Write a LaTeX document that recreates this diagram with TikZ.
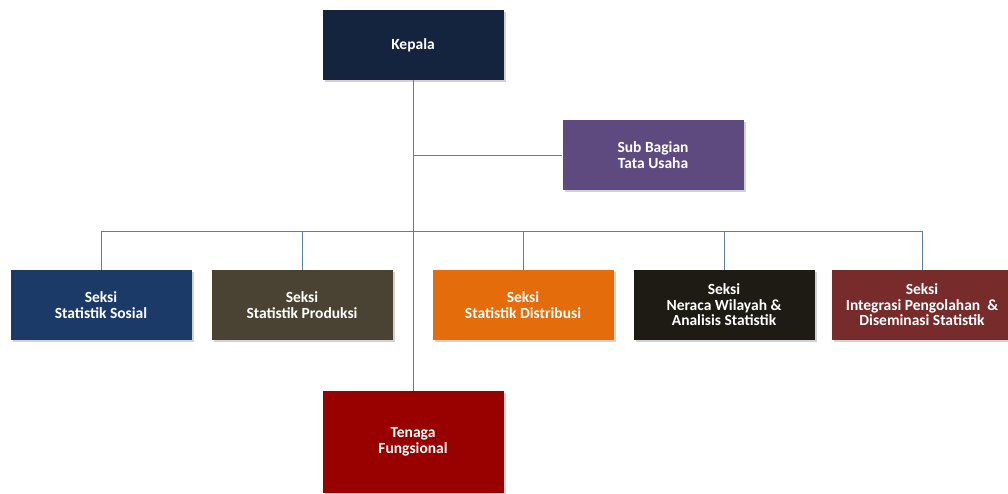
\documentclass[tikz,border=0pt]{standalone}
\usepackage{fontspec}
\setmainfont{Carlito}
\usepackage{tikz}
\usetikzlibrary{shadows}
\definecolor{kepalablue}{HTML}{14243F}
\definecolor{tupurple}{HTML}{5E4A7E}
\definecolor{sosialblue}{HTML}{1B3A68}
\definecolor{produksibrown}{HTML}{4A4232}
\definecolor{distribusiorange}{HTML}{E46C0A}
\definecolor{neracablack}{HTML}{1E1A14}
\definecolor{integrasired}{HTML}{772B2B}
\definecolor{tenagared}{HTML}{990000}
\definecolor{linkblue}{HTML}{5B7FA5}
\tikzstyle{unit} = [rectangle, minimum width=181pt, minimum height=70pt, align=center, text=white, font={\bfseries\fontsize{15.5}{15.5}\selectfont}, drop shadow={shadow xshift=2pt, shadow yshift=-2pt, opacity=0.35}]
\tikzstyle{link} = [draw=linkblue, line width=0.8pt]

\begin{document}
\begin{tikzpicture}[x=1pt,y=-1pt]
    \useasboundingbox[fill=white] (0,0) rectangle (1008,493);
    \node[unit,fill=kepalablue](kepala) at (413,45){Kepala};
    \node[unit,fill=tupurple](tu) at (653,155){Sub Bagian\\Tata Usaha};
    \node[unit,fill=sosialblue](sosial) at (101,305){Seksi\\Statistik Sosial};
    \node[unit,fill=produksibrown](produksi) at (302,305){Seksi\\Statistik Produksi};
    \node[unit,fill=distribusiorange](distribusi) at (523,305){Seksi\\Statistik Distribusi};
    \node[unit,fill=neracablack](neraca) at (724,305){Seksi\\Neraca Wilayah \&\\Analisis Statistik};
    \node[unit,fill=integrasired](integrasi) at (922,305){Seksi\\Integrasi Pengolahan \ \&\\Diseminasi Statistik};
    \node[unit,fill=tenagared,minimum height=102pt](tenaga) at (413,442){Tenaga\\Fungsional};
    \coordinate (bus) at (413,231);
    \draw[link](kepala.south)--(tenaga.north);
    \draw[link](kepala.south |- tu.west)--(tu.west);
    \draw[link](sosial.north |- bus)--(integrasi.north |- bus);
    \foreach \seksi in {sosial,produksi,distribusi,neraca,integrasi}
      \draw[link](\seksi.north)--(\seksi.north |- bus);
  \end{tikzpicture}
\end{document}
